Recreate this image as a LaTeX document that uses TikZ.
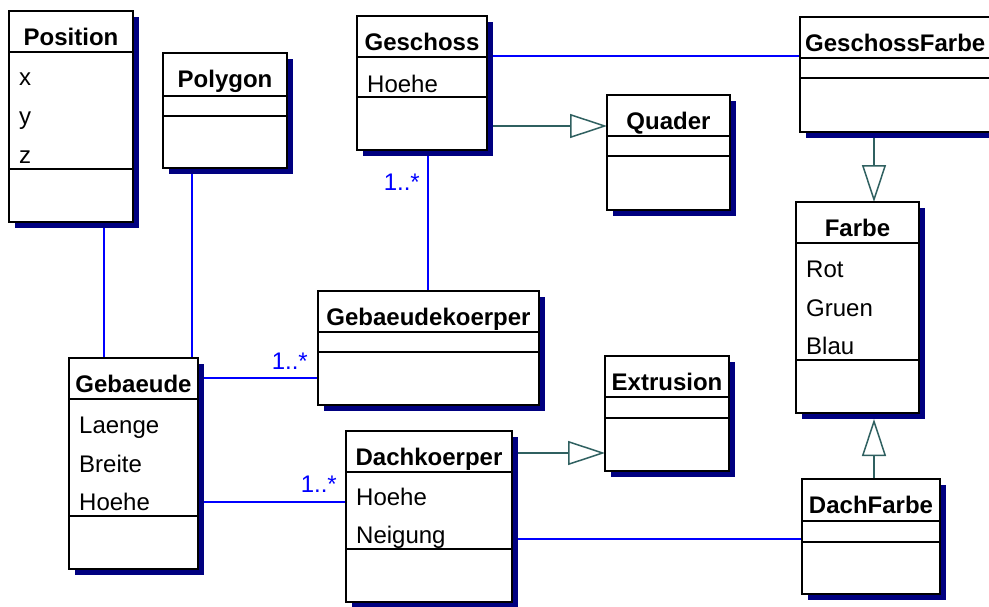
\documentclass[tikz,border=0pt]{standalone}
\usepackage{fontspec}
\setmainfont{Liberation Sans}
\usetikzlibrary{arrows.meta,shadows,calc}
\definecolor{assocblue}{RGB}{0,0,255}
\definecolor{genteal}{RGB}{47,96,96}
\definecolor{shadownavy}{RGB}{0,0,128}
\pgfdeclarelayer{background}
\pgfsetlayers{background,main}
\tikzset{
  classbox/.style={draw=black, line width=1.6pt, fill=white, rectangle, inner sep=0pt, outer sep=0pt,
    anchor=north west,
    general shadow={fill=shadownavy, draw=none, shadow xshift=6pt, shadow yshift=-6pt}},
  divider/.style={draw=black, line width=1.6pt},
  titletext/.style={font=\fontsize{24}{28}\selectfont\bfseries, inner sep=0pt, anchor=base},
  attrtext/.style={font=\fontsize{24}{28}\selectfont, inner sep=0pt, anchor=base west},
  mult/.style={text=assocblue, font=\fontsize{24}{28}\selectfont, inner sep=0pt, anchor=base east},
  assoc/.style={draw=assocblue, line width=1.5pt},
  gen/.style={draw=genteal, line width=1.5pt, -{Triangle[open, length=37pt, width=24pt]}},
}
\newcommand\umlclass[7]{%
  \node[classbox, minimum width={(#4-#2)*1pt}, minimum height={(#5-#3)*1pt}] (#1) at (#2,#3) {};
  \draw[divider] (#1.west |- 0,#6) -- (#1.east |- 0,#6);
  \draw[divider] (#1.west |- 0,#7) -- (#1.east |- 0,#7);
}
\begin{document}
\begin{tikzpicture}[x=1pt,y=-1pt]
\useasboundingbox (0,0) rectangle (989,606);

% classes
\umlclass{pos}{9}{11}{133}{222}{52}{169}
\umlclass{poly}{163}{53}{287}{168}{96}{116}
\umlclass{gesch}{357}{16}{487}{150}{57}{97}
\umlclass{quad}{607}{95}{730}{210}{136}{156}
\umlclass{gfarbe}{800}{17}{1000}{132}{58}{78}
\umlclass{farbe}{796}{202}{919}{413}{243}{360}
\umlclass{gkoerp}{318}{291}{539}{405}{332}{352}
\umlclass{geb}{69}{358}{198}{569}{399}{516}
\umlclass{extr}{605}{356}{729}{471}{397}{418}
\umlclass{dach}{346}{431}{512}{602}{472}{549}
\umlclass{dfarbe}{802}{479}{940}{594}{521}{542}

% titles
\node[titletext] (pos-t) at (71,45) {Position};
\node[titletext] (poly-t) at (225,87) {Polygon};
\node[titletext] (gesch-t) at (422,50) {Geschoss};
\node[titletext] (quad-t) at (668.5,129) {Quader};
\node[titletext, anchor=base west] (gfarbe-t) at (805,51) {GeschossFarbe};
\node[titletext] (farbe-t) at (857.5,236) {Farbe};
\node[titletext] (gkoerp-t) at (428.5,325) {Gebaeudekoerper};
\node[titletext] (geb-t) at (133.5,392) {Gebaeude};
\node[titletext] (extr-t) at (667,390) {Extrusion};
\node[titletext] (dach-t) at (429,465) {Dachkoerper};
\node[titletext] (dfarbe-t) at (871,513) {DachFarbe};

% attributes
\node[attrtext] (pos-x) at (19,85) {x};
\node[attrtext] (pos-y) at (19,124) {y};
\node[attrtext] (pos-z) at (19,163) {z};
\node[attrtext] (gesch-h) at (367,92) {Hoehe};
\node[attrtext] (farbe-r) at (806,277) {Rot};
\node[attrtext] (farbe-g) at (806,316) {Gruen};
\node[attrtext] (farbe-b) at (806,354) {Blau};
\node[attrtext] (geb-l) at (79,433) {Laenge};
\node[attrtext] (geb-b) at (79,472) {Breite};
\node[attrtext] (geb-h) at (79,510) {Hoehe};
\node[attrtext] (dach-h) at (356,505) {Hoehe};
\node[attrtext] (dach-n) at (356,543) {Neigung};

% multiplicities
\node[mult] (m1) at (420,190) {1..*};
\node[mult] (m2) at (308,369) {1..*};
\node[mult] (m3) at (337,492) {1..*};

% connectors
\begin{pgfonlayer}{background}
\draw[assoc] (pos.south -| 104,0) -- (geb.north -| 104,0);
\draw[assoc] (poly.south -| 192,0) -- (geb.north -| 192,0);
\draw[assoc] (gesch.east |- 0,56) -- (gfarbe.west |- 0,56);
\draw[gen] (gesch.east |- 0,126) -- (quad.west |- 0,126);
\draw[assoc] (gesch.south -| 428,0) -- (gkoerp.north -| 428,0);
\draw[assoc] (geb.east |- 0,378) -- (gkoerp.west |- 0,378);
\draw[assoc] (geb.east |- 0,502) -- (dach.west |- 0,502);
\draw[gen] (dach.east |- 0,453) -- (extr.west |- 0,453);
\draw[assoc] (dach.east |- 0,539) -- (dfarbe.west |- 0,539);
\draw[gen] ($(gfarbe.south -| 874,0)+(0,6)$) -- (farbe.north -| 874,0);
\draw[gen] (dfarbe.north -| 874,0) -- ($(farbe.south -| 874,0)+(0,6)$);
\end{pgfonlayer}
\end{tikzpicture}
\end{document}
